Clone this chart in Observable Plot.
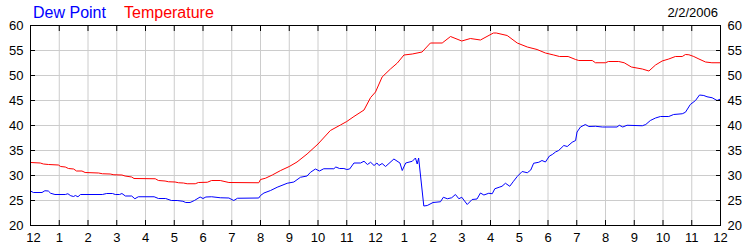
<!DOCTYPE html>
<html><head><meta charset="utf-8">
<script src="https://cdn.jsdelivr.net/npm/d3@7"></script>
<script src="https://cdn.jsdelivr.net/npm/@observablehq/plot@0.6"></script>
<style>
body{margin:0;background:#fff;}
#wrap{width:750px;height:250px;}
</style></head><body><div id="wrap"></div>
<script>
// Temperature (°F) – hour of day (0 = midnight) and value
const tempHours = [0,0.34,0.45,0.63,0.97,1.05,1.21,1.32,1.5,1.6,1.79,1.9,2.37,2.5,2.77,2.9,3.18,3.29,3.52,3.6,4.34,4.45,4.68,4.8,5.03,5.15,5.32,5.45,5.73,5.84,6.15,6.3,6.6,6.9,7.94,8.0,8.17,8.41,8.7,9.0,9.27,9.62,10.0,10.43,10.78,11.0,11.25,11.6,11.83,12.0,12.23,12.52,12.76,12.99,13.28,13.62,13.91,14.32,14.61,15.0,15.3,15.65,16.1,16.2,16.58,16.93,17.28,17.62,17.91,18.2,18.4,18.7,18.96,19.07,19.54,19.65,20.0,20.1,20.46,20.65,20.9,21.28,21.51,21.74,21.97,22.2,22.43,22.67,22.78,22.9,23.07,23.25,23.48,23.7,24.0];
const temperature = [32.6,32.5,32.3,32.2,32.1,31.8,31.7,31.4,31.3,30.9,30.9,30.6,30.5,30.35,30.3,30.15,30.1,29.9,29.7,29.4,29.35,29.0,28.9,28.75,28.7,28.55,28.5,28.35,28.35,28.6,28.65,29.0,29.0,28.6,28.55,29.2,29.45,30.1,31.0,31.8,32.7,34.3,36.3,39.0,40.1,40.8,41.8,43.1,45.6,46.7,49.7,51.3,52.5,54.1,54.3,54.7,56.5,56.5,57.8,56.9,57.4,57.1,58.5,58.5,58.0,56.5,55.7,55.2,54.5,54.1,53.8,53.8,53.2,53.0,53.0,52.55,52.55,52.8,52.8,52.55,51.7,51.3,50.9,52.1,52.9,53.3,53.8,53.8,54.2,54.15,53.8,53.3,52.7,52.55,52.55];

// Dew point (°F)
const dewHours = [0,0.1,0.4,0.5,0.62,0.7,0.85,1.21,1.3,1.4,1.5,1.56,1.65,1.74,2.5,2.65,2.85,2.95,3.1,3.18,3.3,3.52,3.63,3.75,4.3,4.45,4.7,4.9,5.1,5.3,5.4,5.55,5.7,5.9,6.0,6.1,6.3,6.6,6.9,7.07,7.2,7.94,8.0,8.12,8.35,8.58,8.93,9.16,9.39,9.62,9.74,9.91,10.05,10.2,10.55,10.62,10.75,10.9,11.0,11.1,11.25,11.48,11.6,11.72,11.83,11.95,12.05,12.12,12.23,12.35,12.64,12.85,12.93,13.05,13.28,13.39,13.45,13.5,13.68,13.8,14.0,14.26,14.36,14.5,14.65,14.78,14.9,15.0,15.19,15.36,15.53,15.65,15.77,15.94,16.06,16.15,16.3,16.4,16.52,16.67,16.8,16.93,17.1,17.28,17.4,17.5,17.68,17.79,17.91,18.05,18.15,18.26,18.37,18.55,18.67,18.84,18.96,19.01,19.13,19.3,19.42,19.65,19.89,20.4,20.48,20.6,20.75,21.28,21.4,21.56,21.74,21.91,22.2,22.37,22.67,22.78,22.95,23.13,23.27,23.42,23.53,23.71,23.88,24.0];
const dewPoint = [26.9,26.6,26.6,26.95,26.9,26.45,26.2,26.2,26.35,25.95,25.8,26.0,25.75,26.2,26.2,26.4,26.4,26.2,26.2,26.4,25.9,25.9,25.35,25.75,25.75,25.4,25.4,25.0,25.0,24.85,24.6,24.6,25.0,25.7,25.4,25.7,25.75,25.55,25.5,25.0,25.45,25.5,26.0,26.5,27.0,27.65,28.45,28.7,29.65,29.9,30.65,31.3,30.9,31.35,31.35,31.7,31.4,31.4,31.2,31.3,32.5,32.5,32.85,32.2,32.65,32.0,32.5,32.0,32.4,31.8,33.3,32.5,31.0,32.5,32.85,33.5,32.3,33.5,23.9,24.0,24.6,24.75,25.65,25.35,25.55,26.2,25.35,25.65,24.2,25.2,25.3,26.5,26.1,26.45,26.35,27.35,27.65,27.85,28.45,27.85,28.85,29.8,30.8,30.55,31.1,32.45,32.65,33.0,32.7,33.9,34.2,34.7,35.0,36.0,35.8,36.65,37.0,38.7,39.7,40.2,39.8,39.85,39.7,39.7,40.05,39.7,40.05,39.95,40.2,41.0,41.5,41.8,41.8,42.2,42.35,42.65,44.2,45.0,46.1,46.0,45.75,45.55,45.0,45.3];

const hourTicks = d3.range(0, 25);
const hourLabels = ["12","1","2","3","4","5","6","7","8","9","10","11","12","1","2","3","4","5","6","7","8","9","10","11","12"];
const valueTicks = [20,25,30,35,40,45,50,55,60];
const seriesNames = ["Dew Point", "Temperature"];
const dateLabel = "2/2/2006";

const tempData = tempHours.map((h, i) => ({h, v: temperature[i]}));
const dewData = dewHours.map((h, i) => ({h, v: dewPoint[i]}));

const font = "'Liberation Sans', Arial, sans-serif";
const chart = Plot.plot({
  width: 750, height: 250,
  marginLeft: 30, marginRight: 30, marginTop: 25, marginBottom: 25,
  style: {fontFamily: font, fontSize: "13px", background: "#fff", color: "#000", overflow: "visible"},
  x: {domain: [0, 24]},
  y: {domain: [20, 60]},
  marks: [
    Plot.gridX(hourTicks, {stroke: "#cccccc", strokeOpacity: 1}),
    Plot.gridY(valueTicks, {stroke: "#cccccc", strokeOpacity: 1}),
    Plot.line(tempData, {x: "h", y: "v", stroke: "#ff0000", strokeWidth: 1}),
    Plot.line(dewData, {x: "h", y: "v", stroke: "#0000ff", strokeWidth: 1}),
    Plot.frame({stroke: "#000"}),
    Plot.axisX(hourTicks, {anchor: "bottom", tickSize: -5, tickPadding: 12, tickFormat: d => hourLabels[d], label: null, fill: "#000"}),
    Plot.axisX(hourTicks, {anchor: "top", tickSize: -5, tickFormat: () => "", label: null}),
    Plot.axisY(valueTicks, {anchor: "left", tickSize: -5, tickPadding: 12, label: null, fill: "#000"}),
    Plot.axisY(valueTicks, {anchor: "right", tickSize: -5, tickPadding: 12, label: null, fill: "#000"})
  ]
});
document.getElementById("wrap").appendChild(chart);

const svg = d3.select(chart);
// nudge the first bottom label ("12") inward as in the reference
svg.selectAll("g[aria-label='x-axis tick label'] text").filter((d, i) => i === 0)
  .attr("dx", 3);
svg.append("text").attr("x", 33).attr("y", 18).attr("fill", "#0000ff").attr("text-anchor", "start")
  .style("font-family", font).style("font-size", "16px").text(seriesNames[0]);
svg.append("text").attr("x", 124).attr("y", 18).attr("fill", "#ff0000").attr("text-anchor", "start")
  .style("font-family", font).style("font-size", "16px").text(seriesNames[1]);
svg.append("text").attr("x", 718).attr("y", 17).attr("fill", "#000").attr("text-anchor", "end")
  .style("font-family", font).style("font-size", "13px").text(dateLabel);
</script>
</body></html>
